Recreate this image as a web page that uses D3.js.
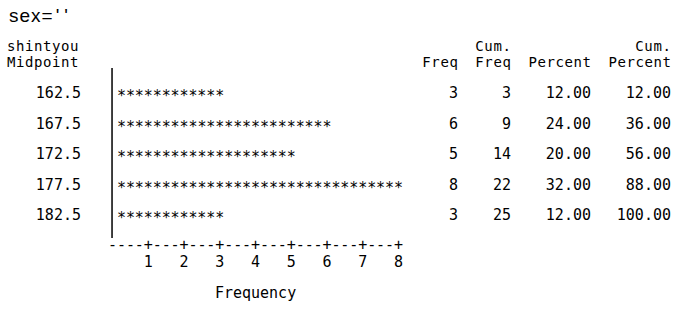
<!DOCTYPE html>
<html lang="en">
    <head>
        <meta charset="UTF-8">
        <title>shintyou chart</title>
        <script src="https://d3js.org/d3.v7.min.js"></script>
        <style>
        body { margin: 0; background: #fff; }
        .mono { font-family: "DejaVu Sans Mono", monospace; font-size: 15px; fill: #000; }
        .head { font-size: 14px; }
        </style>
    </head>
    <body>
        <svg width="678" height="313"></svg>
        <script>
            // values
            const midpoints = ["162.5", "167.5", "172.5", "177.5", "182.5"];
            const freq = [3, 6, 5, 8, 3];
            const cumFreq = [3, 9, 14, 22, 25];
            const percent = ["12.00", "24.00", "20.00", "32.00", "12.00"];
            const cumPercent = ["12.00", "36.00", "56.00", "88.00", "100.00"];
            const freqTicks = [1, 2, 3, 4, 5, 6, 7, 8];

            const width = 678;
            const height = 313;
            const charW = 8.93;   // one character cell
            const dy = "0.36em";  // baseline shift to centre text on a line

            const svg = d3.select("svg")
                .attr("width", width)
                .attr("height", height);

            // x : frequency -> right edge of the character cell
            const x = d3.scaleLinear()
                .domain([0, d3.max(freqTicks)])
                .range([117, 403]);
            const starsPerUnit = Math.round((x(1) - x(0)) / charW);

            // y : midpoint rows
            const y = d3.scalePoint()
                .domain(midpoints)
                .range([93, 215]);

            // title, quotes a little apart like the original
            const title = svg.append("text")
                .attr("x", 9).attr("y", 22)
                .style("font-family", "'Liberation Sans', Arial, sans-serif")
                .style("font-size", "19px")
                .style("letter-spacing", "1px");
            title.append("tspan").text("sex=");
            title.append("tspan").attr("dx", 2).text("'");
            title.append("tspan").attr("dx", 4).text("'");

            // header lines
            const head1 = 46, head2 = 62;
            svg.append("text").attr("class", "mono head").attr("x", 7).attr("y", head1).attr("dy", dy)
                .attr("textLength", 8 * charW).text("shintyou");
            svg.append("text").attr("class", "mono head").attr("x", 7).attr("y", head2).attr("dy", dy)
                .attr("textLength", 8 * charW).text("Midpoint");

            const cols = [
                { top: "", bottom: "Freq", vals: freq, right: 458 },
                { top: "Cum.", bottom: "Freq", vals: cumFreq, right: 511 },
                { top: "", bottom: "Percent", vals: percent, right: 591 },
                { top: "Cum.", bottom: "Percent", vals: cumPercent, right: 671 }
            ];

            cols.forEach(c => {
                if (c.top) {
                    svg.append("text").attr("class", "mono head").attr("text-anchor", "end")
                        .attr("x", c.right).attr("y", head1).attr("dy", dy)
                        .attr("textLength", c.top.length * charW).text(c.top);
                }
                svg.append("text").attr("class", "mono head").attr("text-anchor", "end")
                    .attr("x", c.right).attr("y", head2).attr("dy", dy)
                    .attr("textLength", c.bottom.length * charW).text(c.bottom);
                svg.selectAll(null)
                    .data(c.vals)
                    .enter().append("text")
                    .attr("class", "mono")
                    .attr("text-anchor", "end")
                    .attr("x", c.right)
                    .attr("y", (d, i) => y(midpoints[i]))
                    .attr("dy", dy)
                    .text(d => d);
            });

            // midpoint labels
            svg.selectAll(".mid")
                .data(midpoints)
                .enter().append("text")
                .attr("class", "mono mid")
                .attr("text-anchor", "end")
                .attr("x", 81)
                .attr("y", d => y(d))
                .attr("dy", dy)
                .text(d => d);

            // vertical bar
            svg.append("line")
                .attr("x1", x(0) - charW / 2 - 0.5).attr("x2", x(0) - charW / 2 - 0.5)
                .attr("y1", 68).attr("y2", 238)
                .attr("stroke", "#000")
                .attr("stroke-width", 1.5);

            // bars of asterisks
            svg.selectAll(".bar")
                .data(freq)
                .enter().append("text")
                .attr("class", "mono bar")
                .attr("x", x(0))
                .attr("y", (d, i) => y(midpoints[i]) + 3)
                .attr("dy", dy)
                .attr("textLength", d => x(d) - x(0))
                .attr("lengthAdjust", "spacing")
                .text(d => "*".repeat(d * starsPerUnit));

            // horizontal axis drawn with dashes and pluses
            const axisY = 245;
            const axisStr = "-" + freqTicks.map(() => "-".repeat(starsPerUnit - 1) + "+").join("");
            svg.append("text")
                .attr("class", "mono")
                .attr("x", x(0) - charW)
                .attr("y", axisY)
                .attr("dy", "0.3em")
                .attr("textLength", x(d3.max(freqTicks)) - x(0) + charW)
                .attr("lengthAdjust", "spacing")
                .text(axisStr);

            svg.selectAll(".tick")
                .data(freqTicks)
                .enter().append("text")
                .attr("class", "mono tick")
                .attr("text-anchor", "middle")
                .attr("x", d => x(d) - charW / 2)
                .attr("y", 262)
                .attr("dy", dy)
                .text(d => d);

            svg.append("text")
                .attr("class", "mono")
                .attr("text-anchor", "middle")
                .attr("x", (x(0) - charW + x(d3.max(freqTicks))) / 2)
                .attr("y", 293)
                .attr("dy", dy)
                .text("Frequency");
        </script>
    </body>
</html>
